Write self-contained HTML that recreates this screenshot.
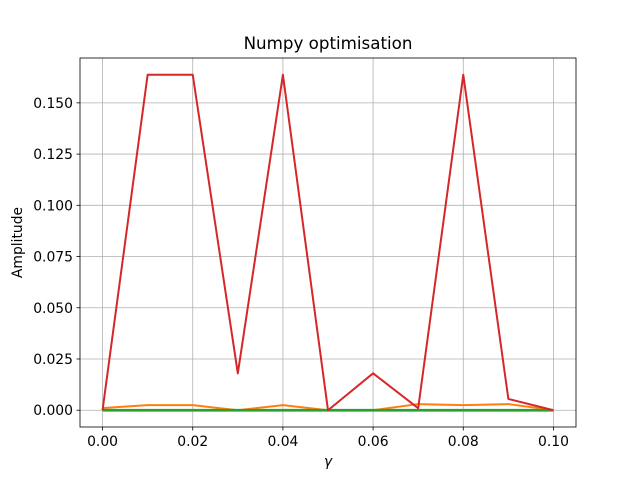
<!DOCTYPE html>
<html><head><meta charset="utf-8"><style>body{margin:0;background:#fff}svg{display:block;font-family:"DejaVu Sans","Liberation Sans",sans-serif}</style></head>
<body>
<svg id="chart" width="640" height="480" xmlns="http://www.w3.org/2000/svg"></svg>
<script>
const xValues=[0,0.01,0.02,0.03,0.04,0.05,0.06,0.07,0.08,0.09,0.1];
const seriesBlue=[0,0,0,0,0,0,0,0,0,0,0];
const seriesOrange=[0.001,0.0025,0.0025,0,0.0025,0,0,0.003,0.0025,0.003,0];
const seriesGreen=[0,0,0,0,0,0,0,0,0,0,0];
const seriesRed=[0,0.1637,0.1637,0.018,0.1637,0,0.018,0.001,0.1637,0.0055,0];
const xTicks=[0,0.02,0.04,0.06,0.08,0.1];
const xTickLabels=["0.00","0.02","0.04","0.06","0.08","0.10"];
const yTicks=[0,0.025,0.05,0.075,0.1,0.125,0.15];
const yTickLabels=["0.000","0.025","0.050","0.075","0.100","0.125","0.150"];
const L=80,R=576,T=58,B=427;
const xmin=-0.005,xmax=0.105,ymin=-0.00819,ymax=0.17189;
const sx=v=>L+(v-xmin)/(xmax-xmin)*(R-L);
const sy=v=>B-(v-ymin)/(ymax-ymin)*(B-T);
const svg=document.getElementById('chart');
const NS='http://www.w3.org/2000/svg';
function mk(t,a,p){const e=document.createElementNS(NS,t);for(const k in a)e.setAttribute(k,a[k]);(p||svg).appendChild(e);return e;}
const grid=mk('g',{});


xTicks.forEach((v,i)=>{
 mk('line',{x1:sx(v),x2:sx(v),y1:T,y2:B,stroke:'#b0b0b0','stroke-width':0.8},grid);
 mk('line',{x1:sx(v),x2:sx(v),y1:B,y2:B+3.5,stroke:'#000','stroke-width':0.8});
 const t=mk('text',{x:sx(v),y:B+19,'font-size':13.9,'text-anchor':'middle'});
 
 
 t.textContent=xTickLabels[i];
});
yTicks.forEach((v,i)=>{
 mk('line',{x1:L,x2:R,y1:sy(v),y2:sy(v),stroke:'#b0b0b0','stroke-width':0.8},grid);
 mk('line',{x1:L-3.5,x2:L,y1:sy(v),y2:sy(v),stroke:'#000','stroke-width':0.8});
 const t=mk('text',{x:L-7,y:sy(v)+5,'font-size':13.9,'text-anchor':'end'});
 
 
 t.textContent=yTickLabels[i];
});
const series=[[seriesBlue,'#1f77b4',2,'series-blue'],[seriesOrange,'#ff7f0e',2,'series-orange'],[seriesGreen,'#2ca02c',2.8,'series-green'],[seriesRed,'#d62728',2,'series-red']];
series.forEach(s=>{
 const p=mk('polyline',{points:xValues.map((x,i)=>sx(x)+','+sy(s[0][i])).join(' '),fill:'none',stroke:s[1],'stroke-width':s[2],'stroke-linejoin':'round'});
 
 
});
const frame=mk('rect',{x:L,y:T,width:R-L,height:B-T,fill:'none',stroke:'#000','stroke-width':0.8});


const title=mk('text',{x:(L+R)/2,y:49,'font-size':16.7,'text-anchor':'middle'});


title.textContent='Numpy optimisation';
const xl=mk('text',{x:(L+R)/2,y:466,'font-size':13.9,'text-anchor':'middle','font-style':'italic'});


xl.textContent='γ';
const yl=mk('text',{x:22,y:(T+B)/2,'font-size':13.9,'text-anchor':'middle',transform:'rotate(-90 22 '+((T+B)/2)+')'});


yl.textContent='Amplitude';
</script>
</body></html>
